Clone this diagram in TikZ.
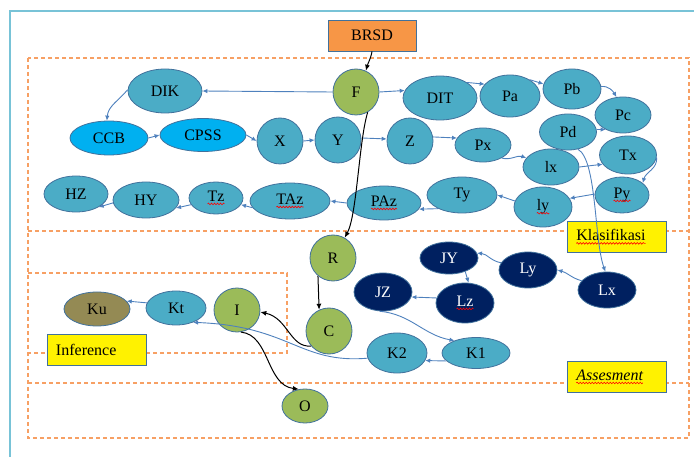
\documentclass[tikz,border=0pt]{standalone}
\usepackage{fontspec}
\setmainfont{Liberation Serif}
\usetikzlibrary{shapes.geometric,arrows.meta,decorations.pathmorphing}
\definecolor{aquaf}{RGB}{75,172,198}
\definecolor{leaf}{RGB}{155,187,89}
\definecolor{cyanb}{RGB}{0,176,240}
\definecolor{navyf}{RGB}{0,32,96}
\definecolor{olivef}{RGB}{148,138,84}
\definecolor{edgeb}{RGB}{65,113,156}
\definecolor{lineb}{RGB}{79,129,189}
\definecolor{orangef}{RGB}{247,150,70}
\definecolor{dashor}{RGB}{247,160,100}
\definecolor{framec}{RGB}{120,195,215}
\newcommand\redwave[1]{\tikz[baseline=(w.base)]{\node[rectangle,draw=none,fill=none,inner sep=0pt,outer sep=0pt,minimum size=0pt](w){#1};\draw[red,line width=0.6pt,decorate,decoration={snake,amplitude=0.8pt,segment length=3pt}]([yshift=-2.5pt]w.base west)--([yshift=-2.5pt]w.base east);}}
\begin{document}
\begin{tikzpicture}[x=1pt,y=-1pt,font=\fontsize{16}{18}\selectfont,
  base/.style={ellipse,draw=edgeb,line width=0.8pt,inner sep=0pt},
  sz/.style 2 args={minimum width=#1pt,minimum height=#2pt},
  aq/.style={base,fill=aquaf},
  gr/.style={base,fill=leaf},
  cy/.style={base,fill=cyanb},
  nv/.style={base,fill=navyf,text=white},
  ol/.style={base,fill=olivef},
  ybox/.style={rectangle,draw=edgeb,line width=0.8pt,fill=yellow,minimum height=31pt,text width=81pt,inner xsep=9pt,align=left},
  dsh/.style={draw=dashor,line width=1.2pt,dash pattern=on 4pt off 3pt},
  bl/.style={draw=lineb,line width=0.9pt,-{Latex[length=5pt,width=4.5pt]}},
  blk/.style={draw=black,line width=1pt,-{Latex[length=6pt,width=5pt]}}]
\useasboundingbox (0,0) rectangle (694,457);
% frame and dashed regions
\draw[framec,line width=1.5pt] (694,11) -- (10,11) -- (10,457);
\draw[dsh] (28,58) rectangle (689,438);
\draw[dsh] (28,231) -- (689,231);
\draw[dsh] (28,383) -- (689,383);
\draw[dsh] (28,273) -- (287,273) -- (287,353) -- (28,353);
% boxes
\node[rectangle,draw=edgeb,line width=0.8pt,fill=orangef,minimum width=88pt,minimum height=31pt] (BRSD) at (372,35.5) {BRSD};
\node[ybox] (Klas) at (616.5,237) {\redwave{Klasifikasi}};
\node[ybox] (Inf) at (96.5,350) {Inference};
\node[ybox] (Ass) at (616.5,377) {\redwave{\itshape Assesment}};
% nodes
\node[aq,sz={74}{44}] (DIK) at (165,91) {DIK};
\node[gr,sz={46}{46}] (F) at (356,92) {F};
\node[aq,sz={74}{44}] (DIT) at (440,98) {DIT};
\node[aq,sz={60}{42}] (Pa) at (510,96) {Pa};
\node[aq,sz={58}{40}] (Pb) at (572,89) {Pb};
\node[aq,sz={56}{36}] (Pc) at (623,115) {Pc};
\node[aq,sz={57}{36}] (Pd) at (568,132) {Pd};
\node[aq,sz={57}{38}] (Tx) at (628,155) {Tx};
\node[aq,sz={54}{36}] (Py) at (622,195) {\redwave{Py}};
\node[aq,sz={58}{40}] (ly) at (543,207) {\redwave{ly}};
\node[aq,sz={56}{36}] (lx) at (551,167) {lx};
\node[aq,sz={56}{34}] (Px) at (483,145) {Px};
\node[aq,sz={46}{46}] (Z) at (410,141) {Z};
\node[aq,sz={46}{46}] (Y) at (338,140) {Y};
\node[aq,sz={46}{46}] (X) at (280,141) {X};
\node[cy,sz={86}{33}] (CPSS) at (203,135) {CPSS};
\node[cy,sz={78}{34}] (CCB) at (109,138) {CCB};
\node[aq,sz={70}{36}] (Ty) at (462,195) {Ty};
\node[aq,sz={74}{34}] (PAz) at (384,203) {\redwave{PAz}};
\node[aq,sz={80}{36}] (TAz) at (290,201) {\redwave{TAz}};
\node[aq,sz={54}{32}] (Tz) at (216,198) {\redwave{Tz}};
\node[aq,sz={66}{36}] (HY) at (146,200) {HY};
\node[aq,sz={64}{36}] (HZ) at (76,194) {HZ};
\node[gr,sz={46}{46}] (R) at (333,258) {R};
\node[gr,sz={46}{46}] (C) at (329,331) {C};
\node[gr,sz={46}{44}] (I) at (237,310) {I};
\node[aq,sz={60}{34}] (Kt) at (176,308) {Kt};
\node[ol,sz={66}{34}] (Ku) at (97,309) {Ku};
\node[gr,sz={46}{34}] (O) at (305,406) {O};
\node[nv,sz={58}{32}] (JY) at (449,258) {JY};
\node[nv,sz={58}{36}] (Ly) at (528,270) {Ly};
\node[nv,sz={58}{36}] (Lx) at (607,290) {Lx};
\node[nv,sz={58}{38}] (JZ) at (383,292) {JZ};
\node[nv,sz={58}{40}] (Lz) at (465,303) {\redwave{Lz}};
\node[aq,sz={60}{40}] (K2) at (397,353) {K2};
\node[aq,sz={68}{31}] (K1) at (476,353) {K1};
% blue connectors
\draw[bl] (F.180) -- (DIK.0);
\draw[bl] (DIK.178) to[out=-130,in=85] (CCB.97);
\draw[bl] (CCB.0) -- (CPSS.180);
\draw[bl] (CPSS.0) -- (X.180);
\draw[bl] (X.0) -- (Y.180);
\draw[bl] (Y.5) -- (Z.175);
\draw[bl] (Z.10) -- (Px.165);
\draw[bl] (Px.-35) to[out=-15,in=160] (lx.160);
\draw[bl] (F.0) -- (DIT.168);
\draw[bl] (DIT.30) -- (Pa.155);
\draw[bl] (Pa.40) -- (Pb.170);
\draw[bl] (Pb.5) to[out=5,in=120] (Pc.110);
\draw[bl] (Pd.5) -- (Pc.220);
\draw[bl] (lx.0) -- (Tx.200);
\draw[bl] (Tx.-5) to[out=-85,in=75] (Py.30);
\draw[bl] (Py.178) -- (ly.18);
\draw[bl] (ly.168) -- (Ty.0);
\draw[bl] (Ty.210) -- (PAz.-10);
\draw[bl] (PAz.180) -- (TAz.0);
\draw[bl] (TAz.190) -- (Tz.-15);
\draw[bl] (Tz.195) -- (HY.-15);
\draw[bl] (HY.185) -- (HZ.-30);
\draw[bl] (Pd.-60) .. controls (597,160) and (594,240) .. (Lx.95);
\draw[bl] (Lx.160) to[out=165,in=-15] (Ly.0);
\draw[bl] (Ly.165) to[out=170,in=-5] (JY.10);
\draw[bl] (JY.-40) -- (Lz.80);
\draw[bl] (Lz.170) -- (JZ.-10);
\draw[bl] (JZ.-100) to[out=-5,in=170] (K1.150);
\draw[bl] (K1.195) -- (K2.-15);
\draw[bl] (K2.190) .. controls (300,364) and (290,326) .. (Kt.-40);
\draw[bl] (Kt.170) -- (Ku.15);
% black connectors
\draw[blk] (BRSD.south) to[out=-100,in=75] (F.65);
\draw[blk] (F.-60) .. controls (359,140) and (357,215) .. (R.60);
\draw[blk] (R.-130) -- (C.115);
\draw[blk] (C.-140) .. controls (290,348) and (288,318) .. (I.-5);
\draw[blk] (I.-80) .. controls (270,335) and (266,385) .. (O.110);
\end{tikzpicture}
\end{document}
